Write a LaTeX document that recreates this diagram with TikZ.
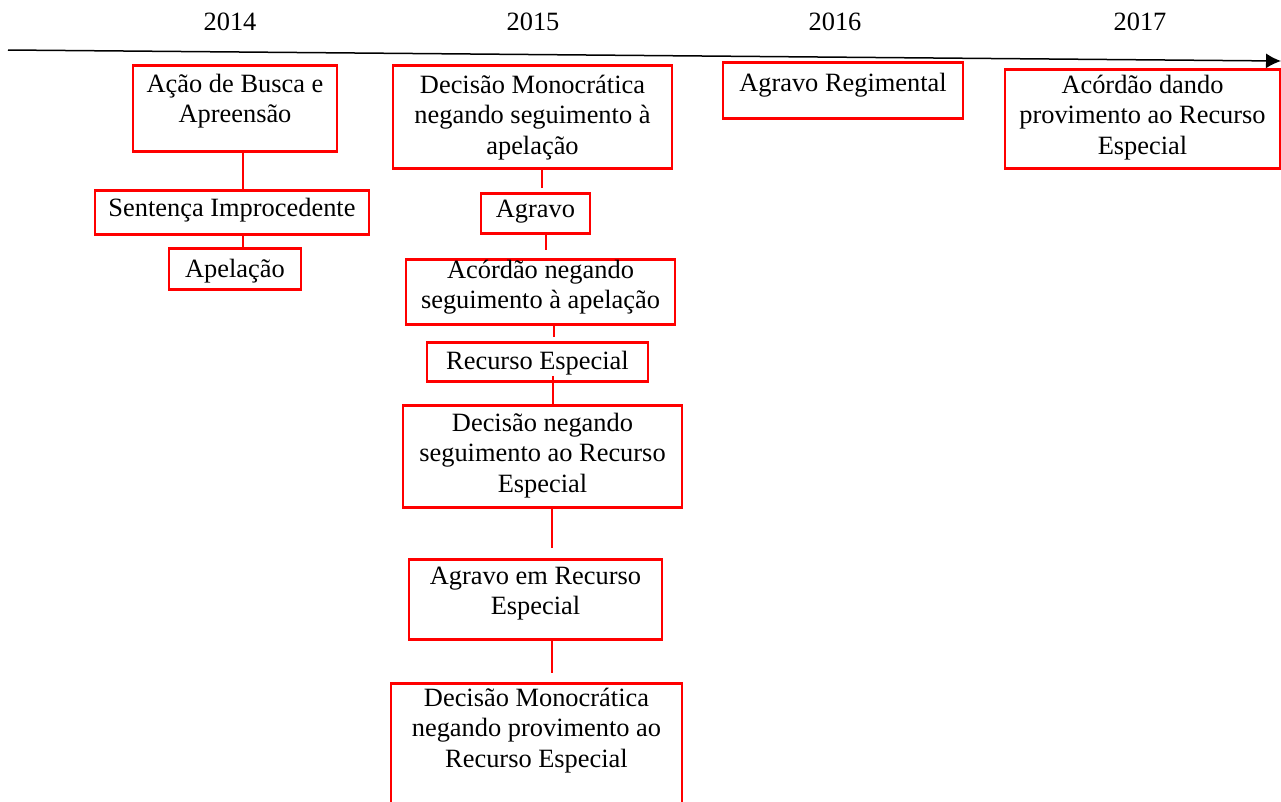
\documentclass[tikz,border=0pt]{standalone}
\usepackage{fontspec}
\setmainfont{Liberation Serif}
\usetikzlibrary{arrows.meta}

\tikzset{
  caixa/.style={draw=red, line width=2.8pt, inner sep=0pt, anchor=north, align=flush center,
    font=\fontsize{26.4}{30.5}\selectfont},
  liga/.style={draw=red, line width=1.3pt},
  ano/.style={font=\fontsize{26.4}{30.5}\selectfont},
}

\begin{document}
\begin{tikzpicture}[x=1pt,y=-1pt]
	\useasboundingbox (0,0) rectangle (1281,801);
	%LINHA DO TEMPO
	\coordinate (eixoini) at (8,50);
	\coordinate (eixofim) at (1281,61);
	\draw[-{Latex[length=15pt,width=15pt]}, line width=1.5pt] (eixoini) -- (eixofim);
	\foreach \ano/\xano in {2014/230,2015/533,2016/835,2017/1140}
		\node[ano] (ano\ano) at (\xano,22) {\ano};
	
	%2014
	\node[caixa, text width=204pt, text height=27pt, text depth=59pt] (busca) at (235,64) {Ação de Busca e\\Apreensão};
	\node[caixa, text width=274pt, text height=26pt, text depth=18pt] (sentenca) at (232,189) {Sentença Improcedente};
	\node[caixa, text width=132pt, text height=29pt, text depth=12pt] (apelacao) at (235,247) {Apelação};
	\draw[liga] ([xshift=8pt]busca.south) -- ([xshift=8pt]busca.south |- sentenca.north);
	\draw[liga] ([xshift=11pt]sentenca.south) -- ([xshift=11pt]sentenca.south |- apelacao.north);
	
	%2015
	\node[caixa, text width=279pt, text height=28pt, text depth=75pt] (decmono) at (532.5,64) {Decisão Monocrática\\negando seguimento à\\apelação};
	\node[caixa, text width=109pt, text height=24pt, text depth=16pt] (agravo) at (535.5,192) {Agravo};
	\node[caixa, text width=269pt, text height=19pt, text depth=46pt] (acordao) at (540.5,258) {Acórdão negando\\seguimento à apelação};
	\node[caixa, text width=221pt, text height=27pt, text depth=12pt] (resp) at (537.5,341) {Recurso Especial};
	\node[caixa, text width=279pt, text height=26pt, text depth=76pt] (decneg) at (542.5,404) {Decisão negando\\seguimento ao Recurso\\Especial};
	\node[caixa, text width=253pt, text height=25pt, text depth=55pt] (agresp) at (535.5,558) {Agravo em Recurso\\Especial};
	\node[caixa, text width=291pt, text height=23pt, text depth=107pt] (decprov) at (536.5,682) {Decisão Monocrática\\negando provimento ao\\Recurso Especial};
	\draw[liga, shorten >=4pt] ([xshift=9.5pt]decmono.south) -- ([xshift=9.5pt]decmono.south |- agravo.north);
	\draw[liga, shorten >=8pt] ([xshift=10.5pt]agravo.south) -- ([xshift=10.5pt]agravo.south |- acordao.north);
	\draw[liga, shorten >=4pt] ([xshift=13.5pt]acordao.south) -- ([xshift=13.5pt]acordao.south |- resp.north);
	\draw[liga, shorten <=-7pt] ([xshift=15.5pt]resp.south) -- ([xshift=15.5pt]resp.south |- decneg.north);
	\draw[liga, shorten >=10pt] ([xshift=9.5pt]decneg.south) -- ([xshift=9.5pt]decneg.south |- agresp.north);
	\draw[liga, shorten >=9pt] ([xshift=16.5pt]agresp.south) -- ([xshift=16.5pt]agresp.south |- decprov.north);
	
	%2016
	\node[caixa, text width=240pt, text height=29pt, text depth=27pt] (agreg) at (843,61) {Agravo Regimental};
	
	%2017
	\node[caixa, text width=275pt, text height=24pt, text depth=75pt] (acdando) at (1142.5,68) {Acórdão dando\\provimento ao Recurso\\Especial};
\end{tikzpicture}
\end{document}
